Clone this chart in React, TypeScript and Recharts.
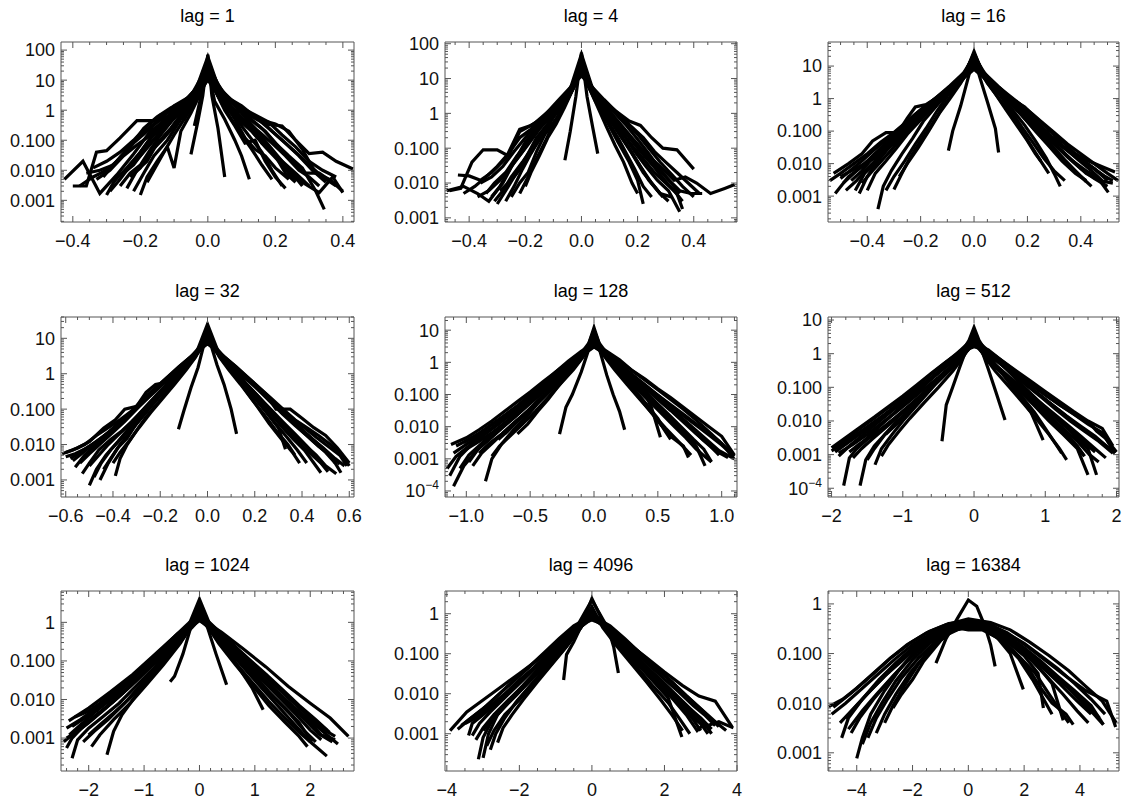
import React from 'react';
import { LineChart, Line, XAxis, YAxis } from 'recharts';

type Pt = [number, number];
type Curve = Pt[];

// ---------------- data ----------------
const lag1Curves: Curve[] = [
  [[-0.425,0.005],[-0.37,0.02],[-0.32,0.0017],[-0.27,0.007],[-0.22,0.035],[-0.17,0.2],[-0.12,0.5],[-0.07,1.6],[-0.03,5],[0,28],[0.03,6],[0.07,2.2],[0.12,0.7],[0.17,0.35],[0.22,0.3],[0.26,0.1],[0.3,0.036],[0.34,0.04],[0.38,0.02],[0.43,0.011]],
  [[-0.4,0.003],[-0.36,0.003],[-0.33,0.04],[-0.3,0.045],[-0.26,0.12],[-0.21,0.45],[-0.16,0.45],[-0.11,1],[-0.06,2.5],[-0.03,6],[0,40],[0.03,7],[0.06,2.5],[0.1,1.1],[0.15,0.5],[0.2,0.35],[0.24,0.2],[0.28,0.05],[0.32,0.008],[0.36,0.005],[0.4,0.002]],
  [[-0.36,0.008],[-0.32,0.01],[-0.28,0.015],[-0.24,0.05],[-0.2,0.15],[-0.16,0.35],[-0.12,0.9],[-0.08,1.4],[-0.04,4],[0,20],[0.04,4],[0.08,1.5],[0.12,0.6],[0.16,0.25],[0.2,0.08],[0.24,0.03],[0.28,0.012],[0.32,0.002],[0.345,0.0005]],
  [[-0.3,0.0015],[-0.27,0.006],[-0.24,0.01],[-0.2,0.03],[-0.16,0.1],[-0.12,0.3],[-0.08,1],[-0.04,3.5],[0,60],[0.04,3],[0.08,0.9],[0.12,0.3],[0.16,0.1],[0.2,0.03],[0.24,0.01],[0.28,0.004],[0.33,0.0018],[0.37,0.006],[0.4,0.0018]],
  [[-0.33,0.005],[-0.29,0.01],[-0.25,0.03],[-0.21,0.07],[-0.17,0.15],[-0.13,0.5],[-0.09,1.2],[-0.05,2.8],[-0.02,8],[0,15],[0.02,9],[0.05,3],[0.09,1.2],[0.13,0.45],[0.17,0.2],[0.21,0.06],[0.25,0.02],[0.29,0.008],[0.33,0.008],[0.37,0.004]],
  [[-0.22,0.002],[-0.19,0.008],[-0.16,0.03],[-0.12,0.1],[-0.08,0.5],[-0.05,1.5],[-0.02,6],[0,30],[0.02,6],[0.05,1.8],[0.08,0.6],[0.12,0.15],[0.16,0.04],[0.19,0.01],[0.22,0.003]],
  [[-0.2,0.0015],[-0.18,0.006],[-0.15,0.02],[-0.12,0.06],[-0.1,0.012],[-0.08,0.2],[-0.05,0.8],[-0.02,4],[0,12],[0.02,5],[0.05,1],[0.08,0.3],[0.11,0.08],[0.14,0.1],[0.17,0.02],[0.2,0.006],[0.23,0.0025]],
  [[-0.28,0.004],[-0.24,0.012],[-0.2,0.04],[-0.17,0.12],[-0.14,0.25],[-0.1,0.6],[-0.06,1.8],[-0.03,5],[0,18],[0.03,5],[0.06,1.5],[0.1,0.5],[0.14,0.15],[0.18,0.05],[0.22,0.02],[0.26,0.008],[0.3,0.003]],
  [[-0.25,0.008],[-0.22,0.015],[-0.18,0.06],[-0.14,0.2],[-0.1,0.8],[-0.07,0.5],[-0.04,2],[0,45],[0.04,2.5],[0.07,1],[0.1,0.9],[0.13,0.3],[0.16,0.08],[0.2,0.03],[0.23,0.008],[0.26,0.004]],
  [[-0.24,0.0025],[-0.21,0.01],[-0.18,0.02],[-0.15,0.08],[-0.11,0.25],[-0.08,0.7],[-0.04,2.5],[0,10],[0.04,2.5],[0.08,0.5],[0.11,0.12],[0.14,0.05],[0.17,0.03],[0.2,0.012],[0.24,0.005]],
  [[-0.31,0.006],[-0.27,0.02],[-0.23,0.06],[-0.19,0.25],[-0.15,0.6],[-0.11,1.2],[-0.07,2],[-0.035,5],[0,22],[0.035,5],[0.07,2],[0.11,1],[0.15,0.55],[0.19,0.2],[0.23,0.08],[0.27,0.03],[0.31,0.01],[0.35,0.004]],
  [[-0.26,0.003],[-0.23,0.008],[-0.2,0.015],[-0.17,0.05],[-0.14,0.15],[-0.11,0.4],[-0.07,1.2],[-0.035,4],[0,35],[0.035,4],[0.07,1.3],[0.11,0.45],[0.15,0.2],[0.19,0.08],[0.23,0.03],[0.27,0.01],[0.3,0.006],[0.33,0.003]],
  [[-0.34,0.012],[-0.3,0.02],[-0.26,0.04],[-0.22,0.1],[-0.18,0.3],[-0.14,0.7],[-0.1,1],[-0.06,2.2],[-0.03,5],[0,16],[0.03,5],[0.06,2.2],[0.1,1.2],[0.14,0.7],[0.18,0.4],[0.22,0.15],[0.26,0.06],[0.3,0.02],[0.34,0.01],[0.38,0.006]],
  [[-0.18,0.004],[-0.16,0.01],[-0.13,0.04],[-0.1,0.15],[-0.07,0.5],[-0.04,1.8],[-0.02,5],[0,50],[0.02,5],[0.04,1.8],[0.07,0.5],[0.1,0.15],[0.13,0.05],[0.16,0.015],[0.19,0.005]],
  [[-0.29,0.002],[-0.26,0.005],[-0.22,0.02],[-0.18,0.08],[-0.14,0.3],[-0.1,0.9],[-0.06,2.5],[-0.03,6],[0,25],[0.03,6],[0.06,2.3],[0.1,0.8],[0.14,0.25],[0.18,0.07],[0.22,0.02],[0.25,0.008],[0.28,0.003]],
  [[-0.23,0.006],[-0.2,0.012],[-0.17,0.04],[-0.13,0.12],[-0.09,0.4],[-0.06,1.1],[-0.03,3],[0,14],[0.03,3],[0.06,1.1],[0.09,0.5],[0.13,0.2],[0.17,0.06],[0.21,0.02],[0.25,0.006],[0.28,0.004]],
  [[-0.38,0.003],[-0.34,0.006],[-0.3,0.01],[-0.26,0.025],[-0.22,0.08],[-0.18,0.2],[-0.14,0.5],[-0.1,1.4],[-0.05,3],[0,30],[0.05,3],[0.1,1.4],[0.14,0.6],[0.18,0.25],[0.22,0.1],[0.26,0.04],[0.3,0.015],[0.34,0.006],[0.38,0.003]],
  [[-0.05,0.034],[-0.03,0.4],[-0.015,3],[0,70],[0.012,3],[0.03,0.25],[0.05,0.006]],
  [[-0.04,0.3],[-0.02,3],[0,25],[0.02,2],[0.05,0.5],[0.08,0.1],[0.1,0.03],[0.123,0.005]],
];

const lag4Curves: Curve[] = [
  [[-0.47,0.006],[-0.43,0.007],[-0.39,0.04],[-0.35,0.09],[-0.3,0.09],[-0.26,0.06],[-0.22,0.3],[-0.17,0.5],[-0.12,1.1],[-0.07,2.5],[-0.03,7],[0,30],[0.03,7],[0.07,2.5],[0.12,1.2],[0.17,0.6],[0.21,0.45],[0.25,0.2],[0.29,0.1],[0.34,0.09],[0.4,0.025]],
  [[-0.44,0.017],[-0.4,0.016],[-0.36,0.012],[-0.32,0.02],[-0.27,0.05],[-0.22,0.35],[-0.18,0.45],[-0.13,0.8],[-0.08,2],[-0.04,5],[0,50],[0.04,5],[0.08,1.8],[0.13,0.6],[0.18,0.2],[0.23,0.07],[0.28,0.03],[0.33,0.012],[0.37,0.015],[0.41,0.01],[0.46,0.005],[0.51,0.007],[0.546,0.009]],
  [[-0.48,0.006],[-0.42,0.008],[-0.37,0.005],[-0.33,0.003],[-0.29,0.008],[-0.25,0.03],[-0.2,0.1],[-0.15,0.35],[-0.1,1],[-0.06,2.5],[-0.03,6],[0,20],[0.03,6],[0.06,2.5],[0.1,1],[0.15,0.35],[0.2,0.12],[0.25,0.04],[0.3,0.015],[0.35,0.006],[0.39,0.005],[0.43,0.005]],
  [[-0.34,0.005],[-0.31,0.01],[-0.27,0.02],[-0.23,0.06],[-0.19,0.15],[-0.15,0.4],[-0.11,0.9],[-0.07,2],[-0.03,6],[0,15],[0.03,6],[0.07,2],[0.11,0.7],[0.15,0.25],[0.19,0.08],[0.23,0.03],[0.27,0.012],[0.31,0.006],[0.35,0.0015]],
  [[-0.3,0.0025],[-0.27,0.006],[-0.24,0.015],[-0.2,0.05],[-0.16,0.2],[-0.12,0.5],[-0.08,1.5],[-0.04,4],[0,40],[0.04,4],[0.08,1.2],[0.12,0.4],[0.16,0.13],[0.2,0.04],[0.24,0.012],[0.28,0.005],[0.32,0.004]],
  [[-0.25,0.004],[-0.22,0.01],[-0.19,0.02],[-0.16,0.08],[-0.13,0.25],[-0.09,0.7],[-0.05,2.5],[-0.02,7],[0,25],[0.02,7],[0.05,2.2],[0.09,0.6],[0.13,0.15],[0.17,0.04],[0.2,0.012],[0.22,0.0025]],
  [[-0.37,0.004],[-0.33,0.006],[-0.29,0.012],[-0.25,0.03],[-0.21,0.08],[-0.17,0.25],[-0.13,0.6],[-0.09,1.3],[-0.05,3],[-0.02,8],[0,12],[0.02,8],[0.05,3],[0.09,1.3],[0.13,0.5],[0.17,0.2],[0.21,0.08],[0.25,0.035],[0.29,0.014],[0.33,0.006],[0.36,0.003]],
  [[-0.2,0.008],[-0.18,0.02],[-0.15,0.06],[-0.12,0.2],[-0.09,0.5],[-0.06,1.5],[-0.03,5],[0,35],[0.03,5],[0.06,1.4],[0.09,0.4],[0.12,0.12],[0.15,0.04],[0.18,0.01],[0.2,0.005]],
  [[-0.29,0.006],[-0.25,0.012],[-0.21,0.03],[-0.17,0.1],[-0.13,0.3],[-0.1,0.8],[-0.06,2],[-0.03,5],[0,18],[0.03,5],[0.06,2],[0.1,0.8],[0.14,0.3],[0.18,0.12],[0.22,0.05],[0.26,0.02],[0.3,0.01],[0.34,0.005],[0.36,0.0018]],
  [[-0.32,0.004],[-0.28,0.01],[-0.24,0.04],[-0.2,0.15],[-0.16,0.4],[-0.12,1],[-0.08,2.2],[-0.04,5],[0,22],[0.04,5],[0.08,2.2],[0.12,1],[0.16,0.45],[0.2,0.18],[0.24,0.07],[0.28,0.025],[0.32,0.01],[0.35,0.005]],
  [[-0.27,0.003],[-0.24,0.008],[-0.21,0.025],[-0.18,0.07],[-0.14,0.25],[-0.1,0.8],[-0.06,2.5],[-0.03,6],[0,45],[0.03,6],[0.06,2.5],[0.1,0.7],[0.14,0.22],[0.18,0.07],[0.22,0.02],[0.26,0.008],[0.29,0.004]],
  [[-0.36,0.01],[-0.32,0.015],[-0.28,0.03],[-0.24,0.08],[-0.2,0.2],[-0.16,0.5],[-0.12,1.1],[-0.08,2.5],[-0.04,5.5],[0,16],[0.04,5.5],[0.08,2.5],[0.12,1.2],[0.16,0.55],[0.2,0.25],[0.24,0.1],[0.28,0.04],[0.32,0.018],[0.36,0.008],[0.4,0.004]],
  [[-0.22,0.005],[-0.19,0.015],[-0.16,0.05],[-0.13,0.15],[-0.1,0.5],[-0.07,1.2],[-0.04,3.5],[0,28],[0.04,3.5],[0.07,1.3],[0.1,0.5],[0.13,0.2],[0.16,0.07],[0.19,0.025],[0.22,0.008],[0.25,0.004]],
  [[-0.42,0.005],[-0.38,0.008],[-0.34,0.015],[-0.3,0.03],[-0.26,0.07],[-0.22,0.2],[-0.18,0.35],[-0.14,0.7],[-0.1,1.3],[-0.06,2.8],[-0.03,6],[0,14],[0.03,6],[0.06,2.8],[0.1,1.4],[0.14,0.8],[0.18,0.4],[0.22,0.2],[0.26,0.08],[0.3,0.04],[0.34,0.02],[0.38,0.01],[0.42,0.005]],
  [[-0.31,0.003],[-0.28,0.006],[-0.25,0.015],[-0.21,0.04],[-0.17,0.12],[-0.13,0.35],[-0.09,1],[-0.05,2.8],[0,32],[0.05,2.8],[0.09,0.9],[0.13,0.3],[0.17,0.1],[0.21,0.03],[0.25,0.01],[0.28,0.005],[0.31,0.003]],
  [[-0.059,0.045],[-0.04,0.3],[-0.02,3],[0,55],[0.02,3],[0.04,0.4],[0.058,0.07]],
];

const lag16Curves: Curve[] = [
  [[-0.526,0.005],[-0.47,0.01],[-0.42,0.02],[-0.38,0.05],[-0.33,0.09],[-0.285,0.09],[-0.25,0.25],[-0.22,0.55],[-0.18,0.65],[-0.13,1.2],[-0.08,2.5],[-0.04,5],[0,15],[0.04,5],[0.08,2.5],[0.13,1.1],[0.19,0.55],[0.22,0.3],[0.25,0.1],[0.29,0.1],[0.33,0.035],[0.38,0.02],[0.43,0.012],[0.48,0.008],[0.528,0.0055]],
  [[-0.52,0.0012],[-0.47,0.004],[-0.42,0.008],[-0.37,0.02],[-0.32,0.04],[-0.27,0.1],[-0.22,0.25],[-0.17,0.6],[-0.12,1.3],[-0.07,3],[-0.03,7],[0,25],[0.03,7],[0.07,3],[0.12,1.2],[0.17,0.5],[0.22,0.2],[0.27,0.07],[0.32,0.03],[0.37,0.012],[0.42,0.006],[0.46,0.004],[0.503,0.0013]],
  [[-0.445,0.0015],[-0.41,0.005],[-0.37,0.01],[-0.33,0.025],[-0.28,0.06],[-0.23,0.15],[-0.18,0.4],[-0.13,1],[-0.08,2.5],[-0.04,6],[0,20],[0.04,6],[0.08,2.2],[0.13,0.8],[0.18,0.3],[0.23,0.1],[0.28,0.035],[0.33,0.012],[0.38,0.005],[0.42,0.003]],
  [[-0.36,0.0004],[-0.34,0.002],[-0.31,0.006],[-0.27,0.02],[-0.23,0.06],[-0.19,0.2],[-0.14,0.6],[-0.09,1.8],[-0.05,4],[0,12],[0.05,4],[0.09,1.6],[0.14,0.5],[0.19,0.15],[0.23,0.05],[0.27,0.015],[0.3,0.005],[0.323,0.002]],
  [[-0.49,0.0025],[-0.45,0.005],[-0.4,0.012],[-0.35,0.03],[-0.3,0.07],[-0.25,0.15],[-0.2,0.35],[-0.15,0.8],[-0.1,1.6],[-0.05,3.5],[0,8],[0.05,3.5],[0.1,1.5],[0.15,0.7],[0.2,0.3],[0.25,0.12],[0.3,0.05],[0.35,0.025],[0.4,0.012],[0.45,0.007],[0.5,0.003]],
  [[-0.3,0.0016],[-0.27,0.005],[-0.24,0.015],[-0.2,0.05],[-0.16,0.15],[-0.12,0.5],[-0.08,1.5],[-0.04,4],[0,28],[0.04,4],[0.08,1.4],[0.12,0.45],[0.16,0.15],[0.2,0.05],[0.23,0.02],[0.25,0.012]],
  [[-0.43,0.0012],[-0.4,0.004],[-0.36,0.012],[-0.32,0.03],[-0.27,0.08],[-0.22,0.2],[-0.17,0.5],[-0.12,1.2],[-0.07,2.8],[-0.03,6],[0,18],[0.03,6],[0.07,2.8],[0.12,1.1],[0.17,0.45],[0.22,0.18],[0.27,0.07],[0.32,0.028],[0.37,0.012],[0.42,0.005],[0.47,0.003],[0.52,0.0025]],
  [[-0.5,0.004],[-0.46,0.006],[-0.41,0.01],[-0.37,0.015],[-0.33,0.03],[-0.28,0.05],[-0.24,0.12],[-0.19,0.3],[-0.14,0.8],[-0.09,2],[-0.05,4.5],[0,10],[0.05,4.5],[0.09,2],[0.14,0.9],[0.19,0.4],[0.24,0.15],[0.29,0.06],[0.34,0.03],[0.39,0.015],[0.44,0.008],[0.49,0.004],[0.52,0.003]],
  [[-0.46,0.003],[-0.42,0.006],[-0.38,0.015],[-0.34,0.035],[-0.29,0.08],[-0.24,0.2],[-0.19,0.5],[-0.14,1.1],[-0.09,2.5],[-0.04,6],[0,14],[0.04,6],[0.09,2.4],[0.14,1],[0.19,0.45],[0.24,0.18],[0.29,0.07],[0.34,0.03],[0.39,0.013],[0.44,0.006],[0.48,0.003]],
  [[-0.4,0.0015],[-0.37,0.005],[-0.33,0.012],[-0.29,0.03],[-0.25,0.08],[-0.2,0.22],[-0.15,0.6],[-0.1,1.5],[-0.05,4],[0,16],[0.05,4],[0.1,1.5],[0.15,0.55],[0.2,0.2],[0.25,0.07],[0.3,0.025],[0.35,0.01],[0.4,0.004],[0.44,0.002]],
  [[-0.54,0.003],[-0.5,0.005],[-0.45,0.01],[-0.4,0.02],[-0.35,0.045],[-0.3,0.09],[-0.25,0.2],[-0.2,0.45],[-0.15,0.9],[-0.1,1.8],[-0.05,4],[0,9],[0.05,4],[0.1,1.8],[0.15,0.9],[0.2,0.45],[0.25,0.2],[0.3,0.09],[0.35,0.04],[0.4,0.02],[0.45,0.01],[0.5,0.005],[0.54,0.003]],
  [[-0.33,0.0015],[-0.3,0.004],[-0.26,0.012],[-0.22,0.04],[-0.18,0.12],[-0.14,0.4],[-0.1,1.2],[-0.05,3.5],[0,24],[0.05,3.5],[0.1,1.2],[0.14,0.4],[0.18,0.13],[0.22,0.045],[0.26,0.015],[0.3,0.006],[0.34,0.003]],
  [[-0.48,0.0015],[-0.44,0.003],[-0.4,0.007],[-0.35,0.018],[-0.3,0.045],[-0.25,0.11],[-0.2,0.3],[-0.15,0.7],[-0.1,1.6],[-0.05,3.8],[0,11],[0.05,3.8],[0.1,1.6],[0.15,0.7],[0.2,0.28],[0.25,0.1],[0.3,0.04],[0.35,0.016],[0.4,0.007],[0.45,0.0035],[0.5,0.002]],
  [[-0.28,0.004],[-0.25,0.01],[-0.21,0.03],[-0.17,0.1],[-0.13,0.35],[-0.09,1],[-0.05,3],[0,18],[0.05,3],[0.09,1.1],[0.13,0.4],[0.17,0.13],[0.21,0.04],[0.25,0.012],[0.28,0.005]],
  [[-0.42,0.0025],[-0.38,0.006],[-0.34,0.014],[-0.3,0.032],[-0.26,0.075],[-0.22,0.18],[-0.18,0.42],[-0.14,0.9],[-0.1,1.8],[-0.05,4.2],[0,13],[0.05,4.2],[0.1,1.8],[0.14,0.9],[0.18,0.4],[0.22,0.17],[0.26,0.07],[0.3,0.03],[0.34,0.013],[0.38,0.006],[0.42,0.0028]],
  [[-0.5,0.0035],[-0.46,0.0065],[-0.42,0.012],[-0.38,0.024],[-0.34,0.045],[-0.3,0.085],[-0.26,0.17],[-0.22,0.33],[-0.18,0.6],[-0.14,1.1],[-0.1,2],[-0.05,4.2],[0,9.5],[0.05,4.2],[0.1,2],[0.14,1.1],[0.18,0.6],[0.22,0.32],[0.26,0.16],[0.3,0.08],[0.34,0.04],[0.38,0.02],[0.42,0.011],[0.46,0.006],[0.5,0.0035]],
  [[-0.096,0.025],[-0.08,0.1],[-0.05,0.6],[-0.02,5],[0,22],[0.02,5],[0.05,0.8],[0.08,0.12],[0.092,0.022]],
];

const lag32Curves: Curve[] = [
  [[-0.6,0.006],[-0.55,0.008],[-0.5,0.012],[-0.44,0.029],[-0.39,0.05],[-0.35,0.1],[-0.3,0.12],[-0.26,0.3],[-0.22,0.5],[-0.16,0.6],[-0.1,1.5],[-0.05,3.5],[0,10],[0.05,3.5],[0.1,1.5],[0.15,0.8],[0.2,0.5],[0.25,0.25],[0.29,0.1],[0.35,0.1],[0.4,0.055],[0.45,0.03],[0.5,0.018],[0.55,0.008],[0.6,0.003]],
  [[-0.56,0.0023],[-0.52,0.005],[-0.47,0.01],[-0.42,0.02],[-0.37,0.04],[-0.32,0.08],[-0.27,0.16],[-0.22,0.35],[-0.17,0.7],[-0.12,1.4],[-0.07,3],[-0.03,6],[0,20],[0.03,6],[0.07,3],[0.12,1.4],[0.17,0.7],[0.22,0.32],[0.27,0.15],[0.32,0.07],[0.37,0.035],[0.42,0.018],[0.47,0.009],[0.52,0.005],[0.565,0.0016]],
  [[-0.5,0.0007],[-0.47,0.002],[-0.43,0.005],[-0.38,0.012],[-0.33,0.03],[-0.28,0.07],[-0.23,0.18],[-0.18,0.4],[-0.13,0.9],[-0.08,2],[-0.04,4.5],[0,14],[0.04,4.5],[0.08,2],[0.13,0.9],[0.18,0.4],[0.23,0.16],[0.28,0.06],[0.33,0.025],[0.38,0.012],[0.43,0.006],[0.48,0.003],[0.51,0.0017]],
  [[-0.455,0.001],[-0.42,0.003],[-0.38,0.008],[-0.34,0.015],[-0.3,0.04],[-0.25,0.1],[-0.2,0.25],[-0.15,0.6],[-0.1,1.4],[-0.05,3.5],[0,25],[0.05,3.5],[0.1,1.3],[0.15,0.5],[0.2,0.2],[0.25,0.08],[0.3,0.03],[0.33,0.0074]],
  [[-0.39,0.0013],[-0.37,0.004],[-0.34,0.01],[-0.3,0.025],[-0.26,0.06],[-0.21,0.15],[-0.16,0.4],[-0.11,1],[-0.06,2.5],[-0.02,6],[0,12],[0.02,6],[0.06,2.5],[0.11,1],[0.16,0.35],[0.21,0.12],[0.26,0.04],[0.31,0.015],[0.36,0.006],[0.39,0.003]],
  [[-0.615,0.0055],[-0.57,0.007],[-0.52,0.01],[-0.47,0.018],[-0.42,0.03],[-0.37,0.05],[-0.32,0.09],[-0.27,0.2],[-0.22,0.4],[-0.17,0.8],[-0.12,1.6],[-0.07,3],[0,7],[0.07,3],[0.12,1.6],[0.17,0.8],[0.22,0.4],[0.27,0.2],[0.32,0.1],[0.37,0.05],[0.42,0.03],[0.47,0.018],[0.52,0.01],[0.57,0.005],[0.6,0.0025]],
  [[-0.53,0.0015],[-0.5,0.003],[-0.46,0.007],[-0.41,0.014],[-0.36,0.025],[-0.31,0.05],[-0.26,0.12],[-0.21,0.28],[-0.16,0.6],[-0.11,1.3],[-0.06,2.8],[-0.02,6],[0,16],[0.02,6],[0.06,2.8],[0.11,1.2],[0.16,0.55],[0.21,0.25],[0.26,0.1],[0.31,0.045],[0.36,0.02],[0.41,0.01],[0.46,0.005],[0.5,0.0025],[0.545,0.0015]],
  [[-0.58,0.004],[-0.54,0.006],[-0.49,0.01],[-0.44,0.017],[-0.39,0.03],[-0.34,0.06],[-0.29,0.13],[-0.24,0.28],[-0.19,0.55],[-0.14,1.1],[-0.09,2.2],[-0.04,4.5],[0,9],[0.04,4.5],[0.09,2.2],[0.14,1.1],[0.19,0.55],[0.24,0.27],[0.29,0.13],[0.34,0.06],[0.39,0.03],[0.44,0.015],[0.49,0.008],[0.54,0.004],[0.58,0.0025]],
  [[-0.48,0.0012],[-0.45,0.003],[-0.41,0.007],[-0.36,0.016],[-0.31,0.04],[-0.26,0.1],[-0.21,0.25],[-0.16,0.55],[-0.11,1.2],[-0.06,2.8],[-0.02,7],[0,18],[0.02,7],[0.06,2.8],[0.11,1.2],[0.16,0.5],[0.21,0.22],[0.26,0.09],[0.31,0.035],[0.36,0.015],[0.41,0.007],[0.45,0.003],[0.48,0.0016]],
  [[-0.44,0.002],[-0.41,0.004],[-0.37,0.01],[-0.33,0.022],[-0.28,0.055],[-0.23,0.14],[-0.18,0.35],[-0.13,0.85],[-0.08,2],[-0.04,4.5],[0,13],[0.04,4.5],[0.08,2],[0.13,0.8],[0.18,0.32],[0.23,0.12],[0.28,0.045],[0.33,0.018],[0.38,0.007],[0.42,0.003]],
  [[-0.54,0.003],[-0.5,0.0055],[-0.45,0.011],[-0.4,0.022],[-0.35,0.045],[-0.3,0.1],[-0.25,0.22],[-0.2,0.45],[-0.15,0.9],[-0.1,1.8],[-0.05,3.8],[0,11],[0.05,3.8],[0.1,1.8],[0.15,0.95],[0.2,0.48],[0.25,0.24],[0.3,0.11],[0.35,0.05],[0.4,0.024],[0.45,0.012],[0.5,0.006],[0.54,0.003]],
  [[-0.4,0.003],[-0.37,0.006],[-0.33,0.013],[-0.29,0.03],[-0.24,0.08],[-0.19,0.2],[-0.14,0.5],[-0.09,1.3],[-0.05,3],[0,15],[0.05,3],[0.09,1.3],[0.14,0.5],[0.19,0.18],[0.24,0.07],[0.29,0.025],[0.34,0.01],[0.37,0.005]],
  [[-0.6,0.0045],[-0.56,0.0055],[-0.51,0.008],[-0.46,0.013],[-0.41,0.025],[-0.36,0.05],[-0.31,0.1],[-0.26,0.22],[-0.21,0.45],[-0.16,0.9],[-0.11,1.8],[-0.06,3.5],[0,8],[0.06,3.5],[0.11,1.8],[0.16,0.9],[0.21,0.45],[0.26,0.22],[0.31,0.1],[0.36,0.055],[0.41,0.03],[0.46,0.016],[0.51,0.009],[0.56,0.005],[0.59,0.0025]],
  [[-0.5,0.0025],[-0.46,0.005],[-0.42,0.01],[-0.37,0.021],[-0.32,0.045],[-0.27,0.1],[-0.22,0.22],[-0.17,0.48],[-0.12,1],[-0.07,2.2],[-0.03,5],[0,12],[0.03,5],[0.07,2.2],[0.12,1],[0.17,0.47],[0.22,0.21],[0.27,0.095],[0.32,0.043],[0.37,0.02],[0.42,0.009],[0.46,0.0045],[0.5,0.0022]],
  [[-0.57,0.0035],[-0.52,0.0065],[-0.47,0.012],[-0.42,0.022],[-0.37,0.042],[-0.32,0.08],[-0.27,0.16],[-0.22,0.33],[-0.17,0.65],[-0.12,1.3],[-0.07,2.6],[-0.03,5],[0,10],[0.03,5],[0.07,2.6],[0.12,1.3],[0.17,0.65],[0.22,0.33],[0.27,0.16],[0.32,0.08],[0.37,0.04],[0.42,0.02],[0.47,0.01],[0.52,0.005],[0.56,0.0028]],
  [[-0.123,0.027],[-0.1,0.09],[-0.07,0.4],[-0.04,1.5],[-0.02,5],[0,20],[0.02,5],[0.04,1.8],[0.07,0.5],[0.1,0.1],[0.123,0.02]],
];

const lag128Curves: Curve[] = [
  [[-1.02,0.0032],[-0.9,0.006],[-0.8,0.012],[-0.7,0.022],[-0.6,0.045],[-0.5,0.1],[-0.4,0.22],[-0.3,0.5],[-0.2,1.1],[-0.1,2.2],[0,4],[0.1,2.2],[0.2,1.2],[0.3,0.55],[0.4,0.28],[0.5,0.14],[0.6,0.07],[0.7,0.035],[0.8,0.016],[0.9,0.007],[1.0,0.003],[1.09,0.0011]],
  [[-1.13,0.0003],[-1.05,0.0012],[-0.95,0.003],[-0.85,0.006],[-0.75,0.012],[-0.65,0.025],[-0.55,0.055],[-0.45,0.12],[-0.35,0.28],[-0.25,0.6],[-0.15,1.3],[-0.05,2.8],[0,5],[0.05,2.8],[0.15,1.3],[0.25,0.6],[0.35,0.27],[0.45,0.12],[0.55,0.05],[0.65,0.022],[0.75,0.01],[0.85,0.004],[0.95,0.0018],[1.05,0.0011]],
  [[-1.1,0.00014],[-1.02,0.0006],[-0.92,0.0018],[-0.82,0.004],[-0.72,0.009],[-0.62,0.02],[-0.52,0.045],[-0.42,0.1],[-0.32,0.25],[-0.22,0.55],[-0.12,1.5],[-0.04,4],[0,10],[0.04,4],[0.12,1.5],[0.22,0.5],[0.32,0.2],[0.42,0.08],[0.52,0.03],[0.62,0.012],[0.72,0.005],[0.8,0.0025],[0.87,0.0006]],
  [[-0.95,0.0006],[-0.88,0.0015],[-0.8,0.003],[-0.7,0.007],[-0.6,0.016],[-0.5,0.035],[-0.4,0.08],[-0.3,0.2],[-0.2,0.5],[-0.1,1.4],[-0.03,3.5],[0,7],[0.03,3.5],[0.1,1.4],[0.2,0.45],[0.3,0.16],[0.4,0.055],[0.5,0.018],[0.55,0.008],[0.6,0.004]],
  [[-0.85,0.0002],[-0.8,0.001],[-0.72,0.003],[-0.63,0.008],[-0.53,0.02],[-0.43,0.06],[-0.33,0.15],[-0.23,0.4],[-0.13,1.1],[-0.05,3],[0,12],[0.05,3],[0.13,1],[0.23,0.35],[0.33,0.12],[0.43,0.04],[0.52,0.012],[0.6,0.005],[0.7,0.0025],[0.74,0.0011]],
  [[-1.05,0.0005],[-0.98,0.0013],[-0.88,0.003],[-0.78,0.007],[-0.68,0.015],[-0.58,0.032],[-0.48,0.07],[-0.38,0.16],[-0.28,0.38],[-0.18,0.9],[-0.08,2.2],[0,5.5],[0.08,2.2],[0.18,0.9],[0.28,0.38],[0.38,0.15],[0.48,0.06],[0.58,0.025],[0.68,0.01],[0.78,0.004],[0.86,0.002],[0.92,0.0008]],
  [[-0.75,0.004],[-0.68,0.007],[-0.58,0.018],[-0.48,0.045],[-0.38,0.11],[-0.28,0.28],[-0.18,0.7],[-0.08,1.8],[0,3],[0.08,1.9],[0.18,0.8],[0.28,0.35],[0.38,0.15],[0.45,0.04],[0.52,0.0047]],
  [[-1.12,0.0028],[-1.0,0.0045],[-0.9,0.008],[-0.8,0.015],[-0.7,0.03],[-0.6,0.06],[-0.5,0.12],[-0.4,0.25],[-0.3,0.5],[-0.2,1],[-0.1,2],[0,3.5],[0.1,2.1],[0.2,1.1],[0.3,0.55],[0.4,0.3],[0.5,0.15],[0.6,0.08],[0.7,0.04],[0.8,0.02],[0.9,0.01],[1.0,0.005],[1.1,0.0013]],
  [[-1.08,0.0025],[-0.98,0.004],[-0.88,0.007],[-0.78,0.013],[-0.68,0.026],[-0.58,0.05],[-0.48,0.1],[-0.38,0.2],[-0.28,0.42],[-0.18,0.9],[-0.08,2],[0,4.5],[0.08,2],[0.18,0.95],[0.28,0.45],[0.38,0.22],[0.48,0.11],[0.58,0.055],[0.68,0.028],[0.78,0.014],[0.88,0.007],[0.98,0.0035],[1.08,0.0015]],
  [[-0.98,0.0008],[-0.9,0.0022],[-0.8,0.005],[-0.7,0.011],[-0.6,0.024],[-0.5,0.055],[-0.4,0.12],[-0.3,0.28],[-0.2,0.65],[-0.1,1.6],[-0.03,4],[0,8],[0.03,4],[0.1,1.6],[0.2,0.6],[0.3,0.25],[0.4,0.1],[0.5,0.04],[0.6,0.016],[0.7,0.007],[0.78,0.003],[0.85,0.0012]],
  [[-0.9,0.0015],[-0.82,0.003],[-0.72,0.006],[-0.62,0.014],[-0.52,0.03],[-0.42,0.07],[-0.32,0.17],[-0.22,0.42],[-0.12,1.1],[-0.04,3],[0,6],[0.04,3],[0.12,1.1],[0.22,0.42],[0.32,0.17],[0.42,0.07],[0.52,0.028],[0.62,0.011],[0.72,0.0045],[0.8,0.002],[0.92,0.0008]],
  [[-1.15,0.0005],[-1.08,0.0012],[-0.98,0.0025],[-0.88,0.005],[-0.78,0.01],[-0.68,0.02],[-0.58,0.04],[-0.48,0.085],[-0.38,0.18],[-0.28,0.4],[-0.18,0.85],[-0.08,1.9],[0,3.2],[0.08,1.9],[0.18,0.9],[0.28,0.42],[0.38,0.2],[0.48,0.09],[0.58,0.042],[0.68,0.02],[0.78,0.009],[0.88,0.004],[0.98,0.0018],[1.1,0.001]],
  [[-0.8,0.0012],[-0.74,0.0025],[-0.66,0.005],[-0.56,0.012],[-0.46,0.03],[-0.36,0.08],[-0.26,0.22],[-0.16,0.6],[-0.06,2],[0,9],[0.06,2],[0.16,0.6],[0.26,0.2],[0.36,0.07],[0.46,0.025],[0.56,0.009],[0.66,0.0035],[0.76,0.0013]],
  [[-0.7,0.006],[-0.62,0.012],[-0.52,0.028],[-0.42,0.065],[-0.32,0.16],[-0.22,0.4],[-0.12,1],[-0.05,2.5],[0,5],[0.05,2.5],[0.12,1.1],[0.22,0.45],[0.32,0.19],[0.42,0.08],[0.52,0.035],[0.62,0.015],[0.72,0.006],[0.8,0.003]],
  [[-1.0,0.002],[-0.9,0.0035],[-0.8,0.0065],[-0.7,0.013],[-0.6,0.028],[-0.5,0.06],[-0.4,0.13],[-0.3,0.3],[-0.2,0.7],[-0.1,1.7],[0,4],[0.1,1.8],[0.2,0.8],[0.3,0.36],[0.4,0.16],[0.5,0.07],[0.6,0.032],[0.7,0.014],[0.8,0.006],[0.9,0.0028],[0.98,0.0013]],
  [[-1.1,0.0015],[-1.0,0.0028],[-0.9,0.005],[-0.8,0.009],[-0.7,0.018],[-0.6,0.036],[-0.5,0.075],[-0.4,0.16],[-0.3,0.35],[-0.2,0.8],[-0.1,1.8],[0,3.8],[0.1,1.9],[0.2,0.9],[0.3,0.42],[0.4,0.2],[0.5,0.095],[0.6,0.045],[0.7,0.022],[0.8,0.011],[0.9,0.0055],[1.0,0.0027],[1.1,0.0012]],
  [[-0.6,0.006],[-0.52,0.012],[-0.44,0.03],[-0.36,0.07],[-0.28,0.18],[-0.2,0.45],[-0.12,1.1],[-0.05,2.8],[0,6],[0.05,2.8],[0.12,1.1],[0.2,0.45],[0.28,0.18],[0.36,0.075],[0.44,0.03],[0.52,0.012],[0.58,0.006]],
  [[-0.27,0.0059],[-0.22,0.04],[-0.17,0.1],[-0.1,0.5],[-0.05,2],[0,10],[0.05,2],[0.1,0.4],[0.15,0.1],[0.2,0.03],[0.24,0.008]],
];

const lag512Curves: Curve[] = [
  [[-1.97,0.0015],[-1.8,0.0028],[-1.6,0.006],[-1.4,0.012],[-1.2,0.025],[-1.0,0.05],[-0.8,0.11],[-0.6,0.25],[-0.4,0.55],[-0.2,1.2],[0,2],[0.2,1.3],[0.4,0.6],[0.6,0.28],[0.8,0.13],[1.0,0.06],[1.2,0.03],[1.4,0.016],[1.6,0.008],[1.8,0.0045],[1.955,0.0013]],
  [[-1.83,0.00012],[-1.75,0.0008],[-1.6,0.002],[-1.4,0.005],[-1.2,0.012],[-1.0,0.03],[-0.8,0.07],[-0.6,0.18],[-0.4,0.45],[-0.2,1.2],[0,3],[0.2,1.2],[0.4,0.45],[0.6,0.17],[0.8,0.065],[1.0,0.025],[1.2,0.01],[1.4,0.004],[1.6,0.0015],[1.72,0.00025]],
  [[-1.9,0.0009],[-1.75,0.0018],[-1.55,0.004],[-1.35,0.009],[-1.15,0.02],[-0.95,0.045],[-0.75,0.1],[-0.55,0.22],[-0.35,0.5],[-0.15,1.2],[0,2.5],[0.15,1.3],[0.35,0.55],[0.55,0.25],[0.75,0.11],[0.95,0.05],[1.15,0.022],[1.35,0.01],[1.55,0.005],[1.75,0.0025],[1.95,0.0011]],
  [[-1.6,0.00012],[-1.52,0.0007],[-1.4,0.0018],[-1.25,0.004],[-1.05,0.01],[-0.85,0.03],[-0.65,0.08],[-0.45,0.22],[-0.25,0.6],[-0.1,1.5],[0,4],[0.1,1.5],[0.25,0.6],[0.45,0.2],[0.65,0.06],[0.85,0.018],[1.0,0.006],[1.15,0.002],[1.23,0.0011]],
  [[-1.39,0.0005],[-1.3,0.0015],[-1.15,0.004],[-1.0,0.01],[-0.8,0.03],[-0.6,0.09],[-0.4,0.28],[-0.2,0.9],[-0.07,2.5],[0,6],[0.07,2.5],[0.2,0.9],[0.4,0.25],[0.6,0.07],[0.8,0.018],[0.97,0.0027]],
  [[-2.0,0.0013],[-1.85,0.002],[-1.65,0.004],[-1.45,0.008],[-1.25,0.016],[-1.05,0.035],[-0.85,0.075],[-0.65,0.16],[-0.45,0.35],[-0.25,0.8],[-0.1,1.5],[0,1.8],[0.1,1.6],[0.25,0.9],[0.45,0.42],[0.65,0.2],[0.85,0.1],[1.05,0.05],[1.25,0.026],[1.45,0.014],[1.65,0.0075],[1.72,0.005],[1.85,0.003],[2.0,0.0012]],
  [[-1.24,0.004],[-1.15,0.006],[-1.0,0.012],[-0.85,0.03],[-0.65,0.08],[-0.45,0.2],[-0.25,0.55],[-0.1,1.4],[0,3.5],[0.1,1.4],[0.25,0.55],[0.45,0.2],[0.65,0.075],[0.85,0.028],[1.05,0.01],[1.25,0.004],[1.45,0.0015],[1.6,0.00025]],
  [[-1.5,0.0007],[-1.4,0.0015],[-1.25,0.004],[-1.1,0.009],[-0.9,0.02],[-0.7,0.06],[-0.5,0.15],[-0.3,0.4],[-0.15,0.9],[0,2.2],[0.15,1],[0.3,0.45],[0.5,0.17],[0.7,0.065],[0.9,0.025],[1.1,0.01],[1.3,0.004],[1.45,0.0018],[1.55,0.0009]],
  [[-1.85,0.0018],[-1.7,0.003],[-1.5,0.006],[-1.3,0.012],[-1.1,0.026],[-0.9,0.055],[-0.7,0.12],[-0.5,0.27],[-0.3,0.6],[-0.12,1.3],[0,2.2],[0.12,1.4],[0.3,0.65],[0.5,0.3],[0.7,0.14],[0.9,0.065],[1.1,0.03],[1.3,0.014],[1.5,0.007],[1.7,0.0035],[1.9,0.0015]],
  [[-1.7,0.0008],[-1.58,0.0015],[-1.42,0.003],[-1.22,0.007],[-1.02,0.016],[-0.82,0.04],[-0.62,0.1],[-0.42,0.25],[-0.22,0.65],[-0.08,1.6],[0,3],[0.08,1.6],[0.22,0.65],[0.42,0.25],[0.62,0.09],[0.82,0.035],[1.02,0.013],[1.22,0.005],[1.42,0.002],[1.55,0.0009]],
  [[-1.95,0.0012],[-1.78,0.0022],[-1.58,0.0045],[-1.38,0.009],[-1.18,0.019],[-0.98,0.04],[-0.78,0.09],[-0.58,0.2],[-0.38,0.45],[-0.18,1],[0,1.9],[0.18,1.1],[0.38,0.5],[0.58,0.23],[0.78,0.1],[0.98,0.047],[1.18,0.022],[1.38,0.01],[1.58,0.0048],[1.78,0.0024],[1.98,0.0011]],
  [[-1.3,0.0009],[-1.2,0.002],[-1.05,0.005],[-0.9,0.012],[-0.7,0.035],[-0.5,0.1],[-0.3,0.3],[-0.15,0.8],[0,2.8],[0.15,0.8],[0.3,0.3],[0.5,0.1],[0.7,0.032],[0.9,0.01],[1.05,0.004],[1.2,0.0015],[1.3,0.0007]],
  [[-1.75,0.0012],[-1.62,0.002],[-1.45,0.0035],[-1.25,0.007],[-1.05,0.015],[-0.85,0.035],[-0.65,0.085],[-0.45,0.2],[-0.25,0.5],[-0.1,1.2],[0,2.4],[0.1,1.2],[0.25,0.5],[0.45,0.2],[0.65,0.085],[0.85,0.035],[1.05,0.015],[1.25,0.006],[1.45,0.0025],[1.62,0.001],[1.75,0.0006]],
  [[-2.0,0.0016],[-1.8,0.0032],[-1.6,0.0065],[-1.4,0.013],[-1.2,0.027],[-1.0,0.055],[-0.8,0.12],[-0.6,0.26],[-0.4,0.55],[-0.2,1.1],[0,1.6],[0.2,1.2],[0.4,0.6],[0.6,0.3],[0.8,0.15],[1.0,0.075],[1.2,0.038],[1.4,0.019],[1.6,0.01],[1.8,0.006],[1.95,0.0018]],
  [[-1.9,0.0011],[-1.7,0.002],[-1.5,0.004],[-1.3,0.0085],[-1.1,0.018],[-0.9,0.04],[-0.7,0.09],[-0.5,0.2],[-0.3,0.47],[-0.12,1.1],[0,2.6],[0.12,1.1],[0.3,0.47],[0.5,0.2],[0.7,0.09],[0.9,0.04],[1.1,0.018],[1.3,0.008],[1.5,0.0035],[1.7,0.0015],[1.85,0.0008]],
  [[-1.65,0.0015],[-1.5,0.0028],[-1.3,0.0058],[-1.1,0.013],[-0.9,0.03],[-0.7,0.07],[-0.5,0.17],[-0.3,0.42],[-0.12,1.05],[0,2],[0.12,1.05],[0.3,0.45],[0.5,0.19],[0.7,0.08],[0.9,0.035],[1.1,0.015],[1.3,0.0065],[1.5,0.0028],[1.7,0.0012]],
  [[-0.45,0.0025],[-0.39,0.03],[-0.3,0.1],[-0.2,0.4],[-0.1,1.5],[0,5],[0.1,1.4],[0.2,0.35],[0.3,0.08],[0.435,0.0107]],
];

const lag1024Curves: Curve[] = [
  [[-2.36,0.0028],[-2.0,0.006],[-1.6,0.016],[-1.2,0.045],[-0.8,0.15],[-0.4,0.5],[0,1.3],[0.4,0.55],[0.8,0.2],[1.2,0.07],[1.6,0.022],[2.0,0.008],[2.36,0.0033],[2.69,0.0011]],
  [[-2.25,0.0035],[-2.0,0.005],[-1.8,0.008],[-1.5,0.018],[-1.2,0.04],[-0.9,0.1],[-0.6,0.25],[-0.3,0.6],[0,1.6],[0.3,0.65],[0.6,0.27],[0.9,0.11],[1.2,0.045],[1.5,0.018],[1.8,0.007],[2.1,0.003],[2.35,0.0014]],
  [[-2.4,0.00055],[-2.3,0.001],[-2.1,0.002],[-1.85,0.004],[-1.55,0.009],[-1.25,0.022],[-0.95,0.06],[-0.65,0.16],[-0.35,0.45],[-0.1,1.2],[0,2],[0.1,1.3],[0.35,0.45],[0.65,0.15],[0.95,0.05],[1.25,0.016],[1.55,0.006],[1.8,0.0025],[2.03,0.0008]],
  [[-2.3,0.0003],[-2.2,0.0009],[-2.0,0.0018],[-1.75,0.0035],[-1.45,0.008],[-1.15,0.022],[-0.85,0.06],[-0.55,0.18],[-0.25,0.6],[0,1.8],[0.25,0.6],[0.55,0.17],[0.85,0.055],[1.15,0.018],[1.45,0.006],[1.75,0.002],[2.0,0.0008],[2.3,0.00034]],
  [[-1.67,0.00037],[-1.55,0.0015],[-1.4,0.004],[-1.2,0.01],[-0.95,0.03],[-0.7,0.09],[-0.45,0.27],[-0.2,0.8],[0,4],[0.2,0.8],[0.45,0.25],[0.7,0.07],[0.95,0.02],[1.15,0.0054]],
  [[-2.4,0.001],[-2.2,0.0015],[-1.95,0.003],[-1.7,0.006],[-1.4,0.014],[-1.1,0.035],[-0.8,0.09],[-0.5,0.25],[-0.2,0.8],[0,1.4],[0.2,0.85],[0.5,0.3],[0.8,0.11],[1.1,0.04],[1.4,0.015],[1.7,0.006],[2.0,0.0025],[2.2,0.0012],[2.45,0.0009]],
  [[-2.1,0.0008],[-1.9,0.0015],[-1.65,0.003],[-1.35,0.008],[-1.05,0.025],[-0.75,0.075],[-0.45,0.22],[-0.15,0.7],[0,1.2],[0.15,0.75],[0.45,0.25],[0.75,0.09],[1.05,0.032],[1.35,0.011],[1.65,0.004],[1.9,0.0015],[2.1,0.0008]],
  [[-2.35,0.0012],[-2.15,0.0022],[-1.9,0.0045],[-1.6,0.01],[-1.3,0.025],[-1.0,0.065],[-0.7,0.17],[-0.4,0.45],[-0.15,1],[0,1.5],[0.15,1],[0.4,0.45],[0.7,0.17],[1.0,0.06],[1.3,0.022],[1.6,0.008],[1.9,0.003],[2.15,0.0013],[2.4,0.0008]],
  [[-2.2,0.0015],[-2.0,0.0025],[-1.75,0.005],[-1.45,0.012],[-1.15,0.03],[-0.85,0.08],[-0.55,0.22],[-0.25,0.65],[0,1.7],[0.25,0.65],[0.55,0.22],[0.85,0.08],[1.15,0.03],[1.45,0.011],[1.75,0.004],[2.0,0.0016],[2.2,0.0009]],
  [[-2.45,0.0008],[-2.25,0.0014],[-2.0,0.0028],[-1.7,0.006],[-1.4,0.015],[-1.1,0.038],[-0.8,0.1],[-0.5,0.28],[-0.2,0.85],[0,1.3],[0.2,0.9],[0.5,0.3],[0.8,0.11],[1.1,0.042],[1.4,0.016],[1.7,0.0065],[2.0,0.0028],[2.25,0.0014],[2.5,0.0007]],
  [[-1.95,0.0006],[-1.8,0.0012],[-1.55,0.003],[-1.25,0.008],[-0.95,0.025],[-0.65,0.08],[-0.35,0.28],[-0.1,1],[0,2.5],[0.1,1],[0.35,0.28],[0.65,0.08],[0.95,0.024],[1.25,0.007],[1.55,0.0025],[1.8,0.0011],[1.95,0.0006]],
  [[-2.3,0.002],[-2.05,0.0035],[-1.8,0.0065],[-1.5,0.015],[-1.2,0.035],[-0.9,0.09],[-0.6,0.23],[-0.3,0.55],[0,1.1],[0.3,0.58],[0.6,0.25],[0.9,0.1],[1.2,0.04],[1.5,0.016],[1.8,0.0065],[2.1,0.0028],[2.3,0.0016]],
  [[-2.4,0.0018],[-2.15,0.003],[-1.9,0.0055],[-1.6,0.012],[-1.3,0.03],[-1.0,0.075],[-0.7,0.19],[-0.4,0.5],[-0.15,1.1],[0,1.4],[0.15,1.1],[0.4,0.5],[0.7,0.19],[1.0,0.075],[1.3,0.028],[1.6,0.011],[1.9,0.0045],[2.2,0.0018],[2.45,0.0011]],
  [[-2.0,0.0012],[-1.8,0.0022],[-1.55,0.0045],[-1.25,0.011],[-0.95,0.03],[-0.65,0.09],[-0.35,0.3],[-0.12,0.9],[0,1.9],[0.12,0.9],[0.35,0.3],[0.65,0.09],[0.95,0.028],[1.25,0.009],[1.55,0.0032],[1.8,0.0014],[2.0,0.0008]],
  [[-0.53,0.029],[-0.45,0.04],[-0.3,0.15],[-0.15,0.8],[0,3],[0.15,0.7],[0.3,0.15],[0.49,0.024]],
];

const lag4096Curves: Curve[] = [
  [[-3.91,0.0012],[-3.45,0.0035],[-3.0,0.007],[-2.5,0.015],[-2.0,0.032],[-1.5,0.07],[-1.0,0.16],[-0.5,0.35],[0,0.75],[0.5,0.4],[1.0,0.18],[1.5,0.08],[2.0,0.035],[2.5,0.016],[2.95,0.0087],[3.4,0.0065],[3.86,0.0015]],
  [[-3.4,0.0009],[-3.3,0.0018],[-3.0,0.003],[-2.6,0.006],[-2.2,0.013],[-1.8,0.03],[-1.4,0.065],[-1.0,0.14],[-0.6,0.3],[-0.2,0.7],[0,1],[0.2,0.75],[0.6,0.32],[1.0,0.14],[1.4,0.06],[1.8,0.025],[2.2,0.011],[2.6,0.005],[3.0,0.0025],[3.3,0.0013]],
  [[-3.13,0.00023],[-3.0,0.0008],[-2.8,0.0018],[-2.5,0.004],[-2.1,0.009],[-1.7,0.022],[-1.3,0.05],[-0.9,0.13],[-0.5,0.32],[0,0.9],[0.5,0.33],[0.9,0.13],[1.3,0.05],[1.7,0.02],[2.1,0.008],[2.48,0.00083]],
  [[-3.0,0.00025],[-2.85,0.001],[-2.6,0.003],[-2.2,0.008],[-1.8,0.02],[-1.4,0.05],[-1.0,0.12],[-0.5,0.35],[0,2.2],[0.5,0.35],[1.0,0.12],[1.4,0.05],[1.8,0.02],[2.2,0.008],[2.6,0.003],[2.9,0.0012],[3.08,0.0017]],
  [[-2.9,0.0005],[-2.7,0.0012],[-2.4,0.003],[-2.0,0.007],[-1.6,0.018],[-1.2,0.045],[-0.8,0.12],[-0.4,0.35],[0,1.1],[0.4,0.38],[0.8,0.13],[1.2,0.05],[1.65,0.014]],
  [[-2.07,0.0065],[-1.8,0.012],[-1.4,0.03],[-1.0,0.08],[-0.6,0.22],[-0.2,0.6],[0,0.7],[0.3,0.55],[0.7,0.25],[1.1,0.1],[1.5,0.04],[1.9,0.016],[2.3,0.007],[2.7,0.003],[3.1,0.0015],[3.5,0.002],[3.9,0.0014]],
  [[-3.5,0.0018],[-3.2,0.0025],[-2.8,0.005],[-2.4,0.01],[-2.0,0.022],[-1.6,0.045],[-1.2,0.1],[-0.8,0.22],[-0.4,0.48],[0,0.85],[0.4,0.5],[0.8,0.24],[1.2,0.11],[1.6,0.05],[2.0,0.023],[2.4,0.011],[2.8,0.005],[3.1,0.003],[3.4,0.0016]],
  [[-3.3,0.0009],[-3.1,0.0018],[-2.8,0.0035],[-2.4,0.008],[-2.0,0.018],[-1.6,0.04],[-1.2,0.09],[-0.8,0.2],[-0.4,0.45],[0,0.8],[0.4,0.45],[0.8,0.2],[1.2,0.09],[1.6,0.04],[2.0,0.018],[2.4,0.008],[2.8,0.0035],[3.1,0.0018],[3.3,0.001]],
  [[-3.6,0.0016],[-3.3,0.0026],[-2.9,0.005],[-2.5,0.011],[-2.1,0.024],[-1.7,0.05],[-1.3,0.11],[-0.9,0.24],[-0.5,0.5],[0,0.9],[0.5,0.5],[0.9,0.24],[1.3,0.11],[1.7,0.05],[2.1,0.024],[2.5,0.011],[2.9,0.005],[3.2,0.0028],[3.5,0.0015]],
  [[-2.8,0.0004],[-2.65,0.001],[-2.4,0.0025],[-2.1,0.006],[-1.7,0.016],[-1.3,0.042],[-0.9,0.11],[-0.5,0.3],[0,1.2],[0.5,0.3],[0.9,0.11],[1.3,0.04],[1.7,0.015],[2.1,0.006],[2.4,0.0025],[2.7,0.001]],
  [[-3.2,0.0007],[-3.0,0.0014],[-2.7,0.003],[-2.3,0.007],[-1.9,0.016],[-1.5,0.038],[-1.1,0.09],[-0.7,0.22],[-0.3,0.55],[0,0.95],[0.3,0.6],[0.7,0.24],[1.1,0.1],[1.5,0.042],[1.9,0.018],[2.3,0.008],[2.7,0.0035],[3.0,0.0018],[3.2,0.001]],
  [[-2.6,0.0006],[-2.45,0.0014],[-2.2,0.003],[-1.9,0.007],[-1.5,0.02],[-1.1,0.055],[-0.7,0.15],[-0.3,0.45],[0,1.5],[0.3,0.45],[0.7,0.15],[1.1,0.055],[1.5,0.02],[1.9,0.007],[2.2,0.003],[2.5,0.0012]],
  [[-3.7,0.0013],[-3.4,0.0022],[-3.0,0.0042],[-2.6,0.009],[-2.2,0.019],[-1.8,0.04],[-1.4,0.085],[-1.0,0.18],[-0.6,0.38],[-0.2,0.72],[0,0.8],[0.2,0.72],[0.6,0.4],[1.0,0.19],[1.4,0.09],[1.8,0.042],[2.2,0.02],[2.6,0.009],[3.0,0.0042],[3.4,0.002],[3.7,0.0012]],
  [[-3.0,0.0012],[-2.8,0.002],[-2.5,0.0038],[-2.1,0.009],[-1.7,0.021],[-1.3,0.05],[-0.9,0.12],[-0.5,0.3],[-0.2,0.6],[0,0.85],[0.2,0.62],[0.5,0.32],[0.9,0.13],[1.3,0.055],[1.7,0.023],[2.1,0.01],[2.5,0.0045],[2.8,0.0022],[3.0,0.0012]],
  [[-0.78,0.022],[-0.7,0.095],[-0.5,0.2],[-0.25,0.6],[0,2.4],[0.25,0.8],[0.5,0.3],[0.6,0.15],[0.73,0.033]],
];

const lag16384Curves: Curve[] = [
  [[-4.84,0.0083],[-4.2,0.016],[-3.5,0.035],[-2.8,0.08],[-2.1,0.16],[-1.4,0.28],[-0.7,0.4],[0,0.45],[0.7,0.4],[1.4,0.26],[2.1,0.14],[2.8,0.07],[3.5,0.035],[4.2,0.018],[4.96,0.011],[5.28,0.0033]],
  [[-4.54,0.002],[-4.3,0.005],[-3.8,0.012],[-3.2,0.03],[-2.6,0.065],[-2.0,0.13],[-1.3,0.24],[-0.6,0.36],[0,0.4],[0.6,0.36],[1.3,0.25],[2.0,0.13],[2.6,0.07],[3.2,0.035],[3.8,0.018],[4.4,0.009],[4.84,0.0037]],
  [[-4.0,0.00077],[-3.8,0.002],[-3.5,0.006],[-3.0,0.018],[-2.5,0.045],[-1.9,0.11],[-1.2,0.22],[-0.5,0.33],[0,0.35],[0.5,0.33],[1.2,0.24],[1.9,0.12],[2.5,0.055],[3.0,0.025],[3.4,0.0045]],
  [[-3.8,0.0015],[-3.5,0.004],[-3.1,0.01],[-2.6,0.028],[-2.0,0.075],[-1.4,0.16],[-0.7,0.3],[0,0.33],[0.7,0.3],[1.4,0.17],[2.0,0.09],[2.5,0.04],[2.69,0.008]],
  [[-4.4,0.005],[-4.0,0.009],[-3.5,0.018],[-3.0,0.035],[-2.4,0.07],[-1.8,0.14],[-1.1,0.25],[-0.4,0.38],[0,0.42],[0.4,0.38],[1.1,0.27],[1.8,0.15],[2.4,0.08],[3.0,0.04],[3.6,0.02],[4.1,0.01],[4.5,0.006],[4.84,0.0037]],
  [[-3.3,0.0025],[-3.0,0.006],[-2.6,0.015],[-2.1,0.04],[-1.5,0.1],[-0.9,0.22],[-0.3,0.32],[0,0.3],[0.5,0.3],[1.1,0.2],[1.7,0.1],[2.2,0.045],[2.6,0.02],[3.0,0.01],[3.5,0.006],[3.76,0.0037]],
  [[-2.7,0.008],[-2.4,0.015],[-2.0,0.03],[-1.6,0.07],[-1.0,0.18],[-0.4,0.35],[0,0.38],[0.4,0.35],[1.0,0.22],[1.5,0.1],[1.97,0.019]],
  [[-5.0,0.0085],[-4.5,0.012],[-4.0,0.02],[-3.4,0.04],[-2.8,0.08],[-2.2,0.15],[-1.5,0.26],[-0.8,0.38],[0,0.5],[0.8,0.42],[1.5,0.3],[2.2,0.17],[2.9,0.09],[3.6,0.045],[4.2,0.022],[4.8,0.011],[5.3,0.004]],
  [[-4.6,0.004],[-4.1,0.008],[-3.6,0.016],[-3.0,0.035],[-2.4,0.075],[-1.8,0.15],[-1.1,0.27],[-0.4,0.4],[0,0.44],[0.4,0.4],[1.1,0.28],[1.8,0.15],[2.4,0.08],[3.0,0.04],[3.6,0.02],[4.2,0.01],[4.7,0.005]],
  [[-4.2,0.0025],[-3.9,0.005],[-3.4,0.012],[-2.8,0.03],[-2.2,0.07],[-1.6,0.15],[-0.9,0.28],[-0.3,0.37],[0,0.38],[0.3,0.37],[0.9,0.29],[1.6,0.16],[2.2,0.08],[2.8,0.035],[3.4,0.015],[3.9,0.007],[4.3,0.004]],
  [[-3.6,0.002],[-3.3,0.005],[-2.9,0.012],[-2.4,0.032],[-1.8,0.08],[-1.2,0.17],[-0.6,0.29],[0,0.34],[0.6,0.3],[1.2,0.19],[1.8,0.09],[2.4,0.04],[2.9,0.015],[3.3,0.007],[3.6,0.004]],
  [[-4.9,0.006],[-4.4,0.01],[-3.8,0.02],[-3.2,0.04],[-2.6,0.08],[-2.0,0.15],[-1.3,0.26],[-0.6,0.37],[0,0.41],[0.6,0.38],[1.3,0.27],[2.0,0.16],[2.6,0.09],[3.2,0.05],[3.8,0.025],[4.4,0.012],[4.9,0.006]],
  [[-3.0,0.004],[-2.7,0.009],[-2.3,0.022],[-1.8,0.06],[-1.2,0.15],[-0.6,0.28],[0,0.36],[0.6,0.3],[1.2,0.18],[1.8,0.08],[2.3,0.03],[2.7,0.012],[3.0,0.006]],
  [[-4.3,0.003],[-3.8,0.007],[-3.3,0.015],[-2.7,0.035],[-2.1,0.08],[-1.5,0.16],[-0.8,0.29],[0,0.39],[0.8,0.31],[1.5,0.19],[2.1,0.1],[2.7,0.05],[3.3,0.024],[3.9,0.011],[4.4,0.006]],
  [[-1.16,0.064],[-0.8,0.2],[-0.4,0.5],[0,1.2],[0.3,0.9],[0.6,0.35],[0.8,0.15],[0.96,0.055]],
];

const panelTitles = ['lag = 1', 'lag = 4', 'lag = 16', 'lag = 32', 'lag = 128', 'lag = 512', 'lag = 1024', 'lag = 4096', 'lag = 16384'];

// tick values and labels
const xTicksA = [-0.4, -0.2, 0, 0.2, 0.4];
const xLabelsA = ['\u22120.4', '\u22120.2', '0.0', '0.2', '0.4'];
const xTicksB = [-0.6, -0.4, -0.2, 0, 0.2, 0.4, 0.6];
const xLabelsB = ['\u22120.6', '\u22120.4', '\u22120.2', '0.0', '0.2', '0.4', '0.6'];
const xTicksC = [-1, -0.5, 0, 0.5, 1];
const xLabelsC = ['\u22121.0', '\u22120.5', '0.0', '0.5', '1.0'];
const xTicksD = [-2, -1, 0, 1, 2];
const xLabelsD = ['\u22122', '\u22121', '0', '1', '2'];
const xTicksE = [-4, -2, 0, 2, 4];
const xLabelsE = ['\u22124', '\u22122', '0', '2', '4'];
const yTicksAll = [0.0001, 0.001, 0.01, 0.1, 1, 10, 100];
const yLabelsAll = ['10^-4', '0.001', '0.010', '0.100', '1', '10', '100'];

// ---------------- layout ----------------
const FRAME = '#555';
const TEXT = '#111';
const FONT = '"Liberation Sans", Arial, Helvetica, sans-serif';
const TICK_FS = 18;
const MAJOR_LEN = 6;
const MINOR_LEN = 3;
const PLOT_H = 180;
const colLeft = [61, 445, 828];
const colWidth = [293, 292, 291];
const rowTop = [42, 317, 591];

interface PanelCfg {
  curves: Curve[];
  xDomain: [number, number];
  yDomain: [number, number];
  xTicks: number[];
  xLabels: string[];
  xMinorStep: number;
}

const panels: PanelCfg[] = [
  { curves: lag1Curves, xDomain: [-0.435, 0.433], yDomain: [1.9e-4, 186], xTicks: xTicksA, xLabels: xLabelsA, xMinorStep: 0.05 },
  { curves: lag4Curves, xDomain: [-0.486, 0.554], yDomain: [7.6e-4, 112], xTicks: xTicksA, xLabels: xLabelsA, xMinorStep: 0.05 },
  { curves: lag16Curves, xDomain: [-0.547, 0.543], yDomain: [1.6e-4, 55], xTicks: xTicksA, xLabels: xLabelsA, xMinorStep: 0.05 },
  { curves: lag32Curves, xDomain: [-0.62, 0.62], yDomain: [3.3e-4, 40], xTicks: xTicksB, xLabels: xLabelsB, xMinorStep: 0.05 },
  { curves: lag128Curves, xDomain: [-1.167, 1.12], yDomain: [6.5e-5, 25.7], xTicks: xTicksC, xLabels: xLabelsC, xMinorStep: 0.1 },
  { curves: lag512Curves, xDomain: [-2.05, 2.035], yDomain: [5.5e-5, 12.3], xTicks: xTicksD, xLabels: xLabelsD, xMinorStep: 0.2 },
  { curves: lag1024Curves, xDomain: [-2.5, 2.79], yDomain: [1.4e-4, 6.5], xTicks: xTicksD, xLabels: xLabelsD, xMinorStep: 0.2 },
  { curves: lag4096Curves, xDomain: [-4.05, 4.0], yDomain: [1.17e-4, 3.7], xTicks: xTicksE, xLabels: xLabelsE, xMinorStep: 0.5 },
  { curves: lag16384Curves, xDomain: [-5.03, 5.4], yDomain: [4.3e-4, 1.82], xTicks: xTicksE, xLabels: xLabelsE, xMinorStep: 0.5 },
];

function linearTicks(domain: [number, number], step: number): number[] {
  const out: number[] = [];
  const k0 = Math.ceil(domain[0] / step - 1e-9);
  const k1 = Math.floor(domain[1] / step + 1e-9);
  for (let k = k0; k <= k1; k++) out.push(Math.round(k * step * 1e6) / 1e6);
  return out;
}

function logTicks(domain: [number, number]): number[] {
  const out: number[] = [];
  const e0 = Math.floor(Math.log10(domain[0]));
  const e1 = Math.ceil(Math.log10(domain[1]));
  for (let e = e0; e <= e1; e++) {
    for (let m = 1; m <= 9; m++) {
      const v = parseFloat((m * Math.pow(10, e)).toPrecision(6));
      if (v >= domain[0] && v <= domain[1]) out.push(v);
    }
  }
  return out;
}

const near = (a: number, b: number) => Math.abs(a - b) <= Math.abs(b) * 1e-6 + 1e-9;

function BottomTick(props: any) {
  const { x, y, payload, majors, labels } = props;
  const idx = majors.findIndex((m: number) => near(payload.value, m));
  const major = idx >= 0;
  return (
    <g>
      <line x1={x} x2={x} y1={y} y2={y - (major ? MAJOR_LEN : MINOR_LEN)} stroke={FRAME} strokeWidth={1} />
      {major && (
        <text x={x} y={y + 24.5} textAnchor="middle" fontSize={TICK_FS} fontFamily={FONT} fill={TEXT}>
          {labels[idx]}
        </text>
      )}
    </g>
  );
}

function TopTick(props: any) {
  const { x, y, payload, majors } = props;
  const major = majors.some((m: number) => near(payload.value, m));
  return <line x1={x} x2={x} y1={y} y2={y + (major ? MAJOR_LEN : MINOR_LEN)} stroke={FRAME} strokeWidth={1} />;
}

function LeftTick(props: any) {
  const { x, y, payload } = props;
  const idx = yTicksAll.findIndex((m) => near(payload.value, m));
  const major = idx >= 0;
  const label = major ? yLabelsAll[idx] : '';
  return (
    <g>
      <line x1={x} x2={x + (major ? MAJOR_LEN : MINOR_LEN)} y1={y} y2={y} stroke={FRAME} strokeWidth={1} />
      {major && (
        <text x={x - 6} y={y + 6.4} textAnchor="end" fontSize={TICK_FS} fontFamily={FONT} fill={TEXT}>
          {label === '10^-4' ? (
            <>
              <tspan>10</tspan>
              <tspan dy={-8} fontSize={12}>{'\u22124'}</tspan>
            </>
          ) : (
            label
          )}
        </text>
      )}
    </g>
  );
}

function RightTick(props: any) {
  const { x, y, payload } = props;
  const major = yTicksAll.some((m) => near(payload.value, m));
  return <line x1={x} x2={x - (major ? MAJOR_LEN : MINOR_LEN)} y1={y} y2={y} stroke={FRAME} strokeWidth={1} />;
}

const LEFT_W = 60;
const TOP_OFF = 30; // distance from chart top to plot top
const TOP_AXIS_H = 1;
const RIGHT_AXIS_W = 1;
const BOTTOM_H = 32;
const RIGHT_M = 15;

function Panel({ cfg, pw }: { cfg: PanelCfg; pw: number }) {
  const xAll = Array.from(new Set([...linearTicks(cfg.xDomain, cfg.xMinorStep), ...cfg.xTicks])).sort((a, b) => a - b);
  const yAll = logTicks(cfg.yDomain);
  return (
    <LineChart
      width={LEFT_W + pw + RIGHT_AXIS_W + RIGHT_M}
      height={TOP_OFF + PLOT_H + BOTTOM_H}
      margin={{ top: TOP_OFF - TOP_AXIS_H, right: RIGHT_M, bottom: 0, left: 0 }}
    >
      <XAxis
        xAxisId="x"
        dataKey="x"
        type="number"
        orientation="bottom"
        domain={cfg.xDomain}
        allowDataOverflow
        height={BOTTOM_H}
        ticks={xAll}
        interval={0}
        tickSize={0}
        tickMargin={0}
        tickLine={false}
        axisLine={{ stroke: FRAME }}
        tick={(p: any) => <BottomTick {...p} majors={cfg.xTicks} labels={cfg.xLabels} />}
      />
      <XAxis
        xAxisId="xt"
        dataKey="x"
        type="number"
        orientation="top"
        domain={cfg.xDomain}
        allowDataOverflow
        height={TOP_AXIS_H}
        ticks={xAll}
        interval={0}
        tickSize={0}
        tickMargin={0}
        tickLine={false}
        axisLine={{ stroke: FRAME }}
        tick={(p: any) => <TopTick {...p} majors={cfg.xTicks} />}
      />
      <YAxis
        yAxisId="y"
        type="number"
        orientation="left"
        scale="log"
        domain={cfg.yDomain}
        allowDataOverflow
        width={LEFT_W}
        ticks={yAll}
        interval={0}
        tickSize={0}
        tickMargin={0}
        tickLine={false}
        axisLine={{ stroke: FRAME }}
        tick={(p: any) => <LeftTick {...p} />}
      />
      <YAxis
        yAxisId="yr"
        type="number"
        orientation="right"
        scale="log"
        domain={cfg.yDomain}
        allowDataOverflow
        width={RIGHT_AXIS_W}
        ticks={yAll}
        interval={0}
        tickSize={0}
        tickMargin={0}
        tickLine={false}
        axisLine={{ stroke: FRAME }}
        tick={(p: any) => <RightTick {...p} />}
      />
      {/* invisible series so that the top and right frame axes are active */}
      <Line
        xAxisId="xt"
        yAxisId="yr"
        data={cfg.curves[0].map(([x, y]) => ({ x, y }))}
        dataKey="y"
        stroke="none"
        strokeOpacity={0}
        dot={false}
        activeDot={false}
        legendType="none"
        isAnimationActive={false}
      />
      {cfg.curves.map((c, i) => (
        <Line
          key={i}
          xAxisId="x"
          yAxisId="y"
          data={c.map(([x, y]) => ({ x, y }))}
          dataKey="y"
          type="linear"
          stroke="#000"
          strokeWidth={3.2}
          dot={false}
          activeDot={false}
          isAnimationActive={false}
        />
      ))}
    </LineChart>
  );
}

export default function App() {
  return (
    <div
      style={{
        position: 'absolute',
        left: 0,
        top: 0,
        width: 1126,
        height: 800,
        background: '#fff',
        fontFamily: FONT,
        overflow: 'hidden',
      }}
    >
      {panels.map((cfg, i) => {
        const r = Math.floor(i / 3);
        const c = i % 3;
        return (
          <div key={i} style={{ position: 'absolute', left: colLeft[c] - LEFT_W, top: rowTop[r] - TOP_OFF }}>
            <Panel cfg={cfg} pw={colWidth[c]} />
          </div>
        );
      })}
      {panels.map((_, i) => {
        const r = Math.floor(i / 3);
        const c = i % 3;
        return (
          <div
            key={'t' + i}
            style={{
              position: 'absolute',
              left: colLeft[c],
              width: colWidth[c],
              top: rowTop[r] - 37,
              height: 22,
              lineHeight: '22px',
              textAlign: 'center',
              fontSize: 18,
              color: '#000',
            }}
          >
            {panelTitles[i]}
          </div>
        );
      })}
    </div>
  );
}
